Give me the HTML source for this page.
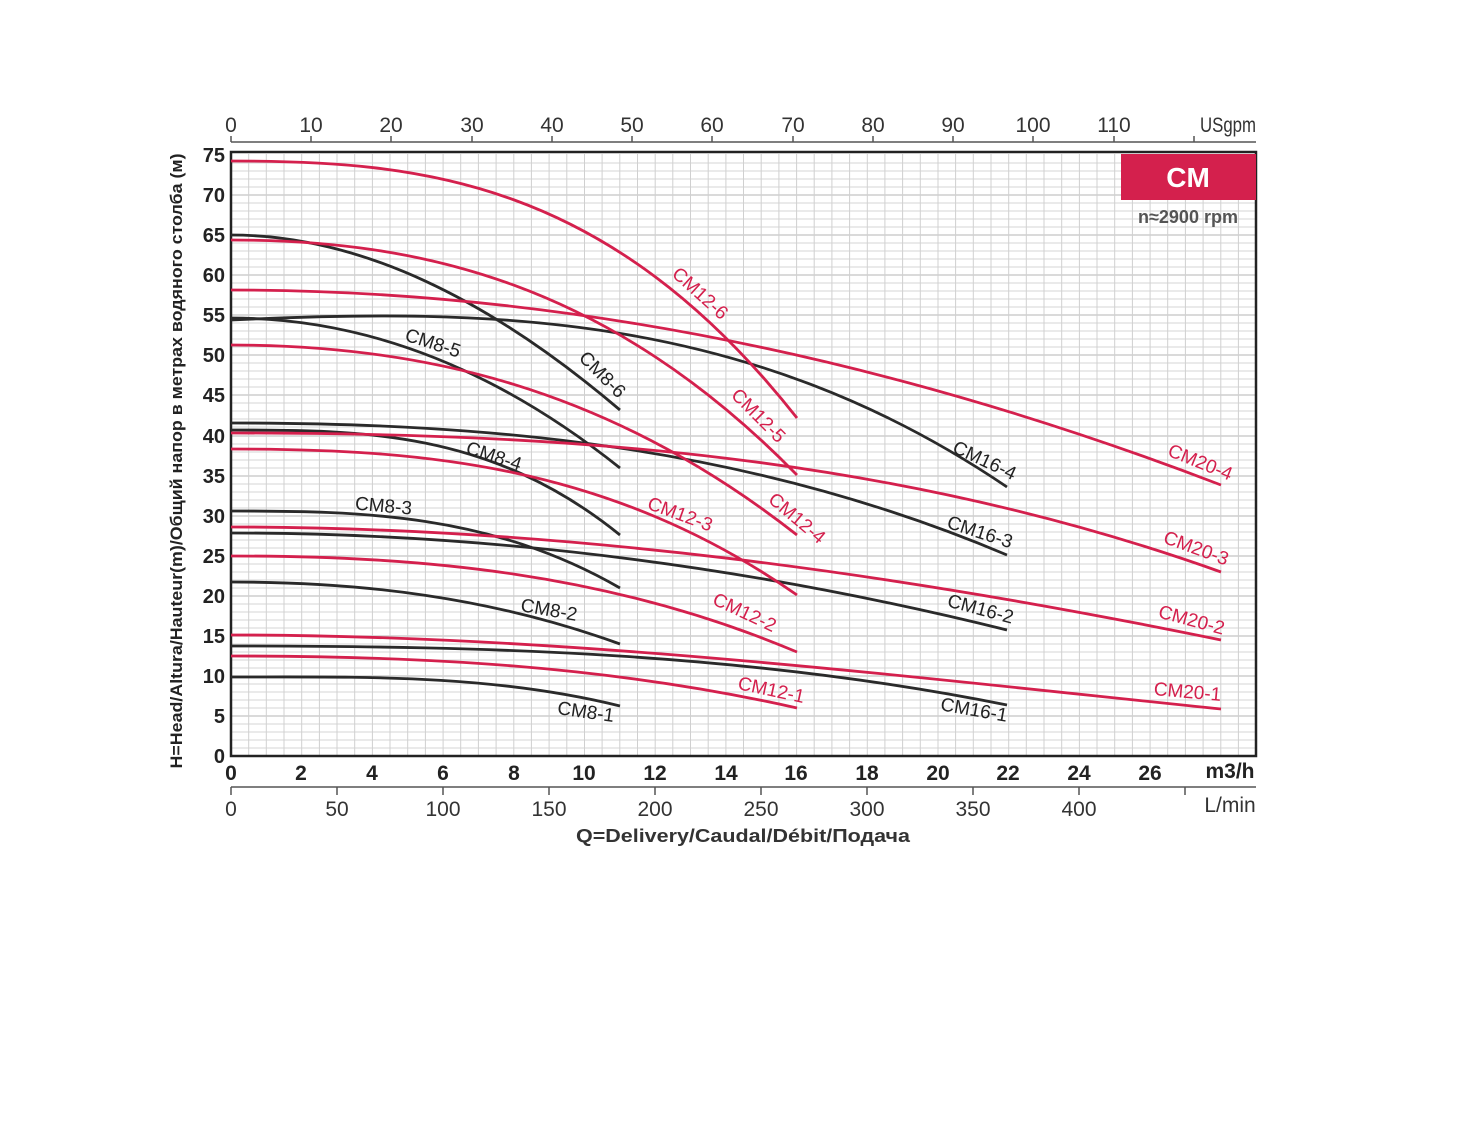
<!DOCTYPE html>
<html><head><meta charset="utf-8"><style>
body{margin:0;background:#fff}
svg text{font-family:"Liberation Sans",sans-serif}
</style></head><body>
<svg width="1460" height="1120" viewBox="0 0 1460 1120" xmlns="http://www.w3.org/2000/svg">
<rect width="1460" height="1120" fill="#fff"/>
<g stroke="#d6d6d6" stroke-width="1">
<path d="M231 748H1256M231 740H1256M231 732H1256M231 724H1256M231 708H1256M231 700H1256M231 692H1256M231 684H1256M231 668H1256M231 660H1256M231 652H1256M231 644H1256M231 628H1256M231 620H1256M231 612H1256M231 604H1256M231 588H1256M231 580H1256M231 572H1256M231 564H1256M231 548H1256M231 540H1256M231 532H1256M231 524H1256M231 508H1256M231 500H1256M231 492H1256M231 484H1256M231 468H1256M231 460H1256M231 452H1256M231 444H1256M231 427H1256M231 419H1256M231 411H1256M231 403H1256M231 387H1256M231 379H1256M231 371H1256M231 363H1256M231 347H1256M231 339H1256M231 331H1256M231 323H1256M231 307H1256M231 299H1256M231 291H1256M231 283H1256M231 267H1256M231 259H1256M231 251H1256M231 243H1256M231 227H1256M231 219H1256M231 211H1256M231 203H1256M231 187H1256M231 179H1256M231 171H1256M231 163H1256"/>
</g>
<g stroke="#c4c4c4" stroke-width="1.3">
<path d="M231 716H1256M231 676H1256M231 636H1256M231 596H1256M231 556H1256M231 516H1256M231 476H1256M231 436H1256M231 395H1256M231 355H1256M231 315H1256M231 275H1256M231 235H1256M231 195H1256"/>
</g>
<g stroke="#d0d0d0" stroke-width="1">
<path d="M248.7 154V756M266.3 154V756M284 154V756M301.7 154V756M319.4 154V756M337 154V756M354.7 154V756M372.4 154V756M390 154V756M407.7 154V756M425.4 154V756M443.1 154V756M460.7 154V756M478.4 154V756M496.1 154V756M513.8 154V756M531.4 154V756M549.1 154V756M566.8 154V756M584.5 154V756M602.1 154V756M619.8 154V756M637.5 154V756M655.2 154V756M672.8 154V756M690.5 154V756M708.2 154V756M725.9 154V756M743.5 154V756M761.2 154V756M778.9 154V756M796.6 154V756M814.2 154V756M831.9 154V756M849.6 154V756M867.3 154V756M884.9 154V756M902.6 154V756M920.3 154V756M938 154V756M955.6 154V756M973.3 154V756M991 154V756M1008.7 154V756M1026.3 154V756M1044 154V756M1061.7 154V756M1079.4 154V756M1097 154V756M1114.7 154V756M1132.4 154V756M1150.1 154V756M1167.7 154V756M1185.4 154V756M1203.1 154V756M1220.8 154V756M1238.4 154V756"/>
</g>
<path d="M231 152V756H1256V152Z" fill="none" stroke="#222" stroke-width="2.5"/>
<rect x="1121" y="154" width="135" height="46" fill="#d4204d"/>
<text x="1188" y="187" font-size="28" font-weight="bold" fill="#fff" text-anchor="middle">CM</text>
<text x="1188" y="223" font-size="18" font-weight="bold" fill="#555" text-anchor="middle">n≈2900 rpm</text>
<path d="M231 142H1256" stroke="#555" stroke-width="1.5"/>
<g stroke="#555" stroke-width="1.5"><path d="M231 142v-6M311 142v-6M391 142v-6M472 142v-6M552 142v-6M632 142v-6M712 142v-6M793 142v-6M873 142v-6M953 142v-6M1033 142v-6M1114 142v-6M1194 142v-6"/></g>
<g font-size="21" fill="#333" text-anchor="middle">
<text x="231" y="132">0</text><text x="311" y="132">10</text><text x="391" y="132">20</text><text x="472" y="132">30</text><text x="552" y="132">40</text><text x="632" y="132">50</text><text x="712" y="132">60</text><text x="793" y="132">70</text><text x="873" y="132">80</text><text x="953" y="132">90</text><text x="1033" y="132">100</text><text x="1114" y="132">110</text><text x="1228" y="132" textLength="56" lengthAdjust="spacingAndGlyphs">USgpm</text>
</g>
<g font-size="20" font-weight="bold" fill="#222" text-anchor="end">
<text x="225" y="763">0</text><text x="225" y="723">5</text><text x="225" y="683">10</text><text x="225" y="643">15</text><text x="225" y="603">20</text><text x="225" y="563">25</text><text x="225" y="523">30</text><text x="225" y="483">35</text><text x="225" y="443">40</text><text x="225" y="402">45</text><text x="225" y="362">50</text><text x="225" y="322">55</text><text x="225" y="282">60</text><text x="225" y="242">65</text><text x="225" y="202">70</text><text x="225" y="162">75</text>
</g>
<text transform="translate(182,461) rotate(-90)" font-size="17" font-weight="bold" fill="#222" text-anchor="middle" textLength="615" lengthAdjust="spacingAndGlyphs">H=Head/Altura/Hauteur(m)/Общий напор в метрах водяного столба (м)</text>
<g font-size="21" font-weight="bold" fill="#222" text-anchor="middle">
<text x="231" y="780">0</text><text x="301" y="780">2</text><text x="372" y="780">4</text><text x="443" y="780">6</text><text x="514" y="780">8</text><text x="584" y="780">10</text><text x="655" y="780">12</text><text x="726" y="780">14</text><text x="796" y="780">16</text><text x="867" y="780">18</text><text x="938" y="780">20</text><text x="1008" y="780">22</text><text x="1079" y="780">24</text><text x="1150" y="780">26</text><text x="1230" y="778">m3/h</text>
</g>
<path d="M231 787H1256" stroke="#555" stroke-width="1.5"/>
<g stroke="#555" stroke-width="1.5"><path d="M231 787v8M337 787v8M443 787v8M549 787v8M655 787v8M761 787v8M867 787v8M973 787v8M1079 787v8M1185 787v8"/></g>
<g font-size="21" fill="#333" text-anchor="middle">
<text x="231" y="816">0</text><text x="337" y="816">50</text><text x="443" y="816">100</text><text x="549" y="816">150</text><text x="655" y="816">200</text><text x="761" y="816">250</text><text x="867" y="816">300</text><text x="973" y="816">350</text><text x="1079" y="816">400</text><text x="1230" y="812">L/min</text>
</g>
<text x="743" y="842" font-size="18" font-weight="bold" fill="#333" text-anchor="middle" textLength="334" lengthAdjust="spacingAndGlyphs">Q=Delivery/Caudal/Débit/Подача</text>
<g fill="none" stroke="#2a2a2a" stroke-width="2.8">
<path d="M231 677C360.7 677 490.3 674 620 706"/>
<path d="M231 582C360.7 582 490.3 596.9 620 644"/>
<path d="M231 511C360.7 511 490.3 513.3 620 588"/>
<path d="M231 430C360.7 430 490.3 430 620 535"/>
<path d="M231 318C360.7 318 490.3 364.5 620 468"/>
<path d="M231 235C360.7 235 490.3 299.8 620 410"/>
<path d="M231 646C489.7 646 748.3 653 1007 705"/>
<path d="M231 533C489.7 533 748.3 566 1007 630"/>
<path d="M231 423C489.7 423 748.3 445.4 1007 555"/>
<path d="M231 320C489.7 308 748.3 311.6 1007 487"/>
</g>
<g fill="none" stroke="#d4204d" stroke-width="2.8">
<path d="M231 656C419.7 656 608.3 665.4 797 708"/>
<path d="M231 556C419.7 556 608.3 572.3 797 652"/>
<path d="M231 449C419.7 449 608.3 463.6 797 595"/>
<path d="M231 345C419.7 345 608.3 386.8 797 535"/>
<path d="M231 240C419.7 240 608.3 282.3 797 475"/>
<path d="M231 161C419.7 161 608.3 179 797 418"/>
<path d="M231 635C561 635 891 675 1221 709"/>
<path d="M231 527C561 527 891 572.2 1221 640"/>
<path d="M231 433C561 433 891 453.9 1221 572"/>
<path d="M231 290C561 290 891 358.3 1221 485"/>
</g>
<g font-size="19" fill="#222" text-anchor="middle">
<text transform="translate(585,718) rotate(8)">CM8-1</text>
<text transform="translate(548,616) rotate(10)">CM8-2</text>
<text transform="translate(383,512) rotate(5)">CM8-3</text>
<text transform="translate(492,462) rotate(18)">CM8-4</text>
<text transform="translate(431,349) rotate(18)">CM8-5</text>
<text transform="translate(598,379) rotate(45)">CM8-6</text>
<text transform="translate(973,716) rotate(10)">CM16-1</text>
<text transform="translate(979,615) rotate(15)">CM16-2</text>
<text transform="translate(978,538) rotate(18)">CM16-3</text>
<text transform="translate(982,466) rotate(25)">CM16-4</text>
</g>
<g font-size="19" fill="#d4204d" text-anchor="middle">
<text transform="translate(770,696) rotate(12)">CM12-1</text>
<text transform="translate(742,618) rotate(25)">CM12-2</text>
<text transform="translate(678,520) rotate(20)">CM12-3</text>
<text transform="translate(793,523) rotate(40)">CM12-4</text>
<text transform="translate(754,420) rotate(45)">CM12-5</text>
<text transform="translate(696,298) rotate(42)">CM12-6</text>
<text transform="translate(1187,698) rotate(5)">CM20-1</text>
<text transform="translate(1190,626) rotate(15)">CM20-2</text>
<text transform="translate(1194,554) rotate(20)">CM20-3</text>
<text transform="translate(1198,468) rotate(22)">CM20-4</text>
</g>
</svg>
</body></html>
